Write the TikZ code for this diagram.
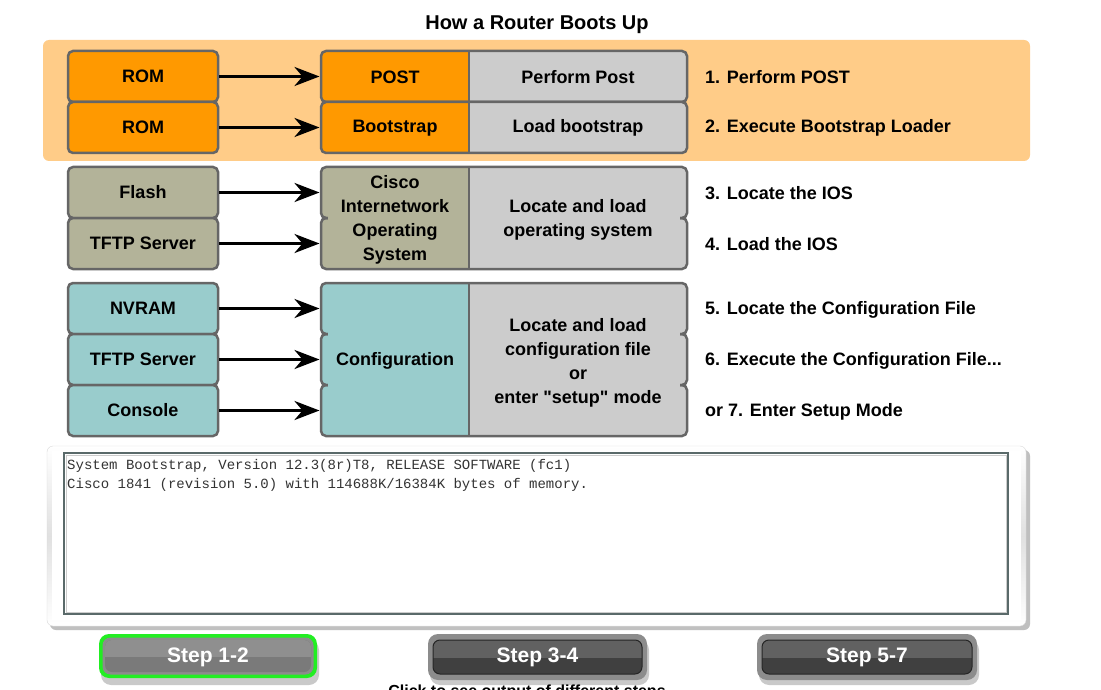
\documentclass[tikz,border=0pt]{standalone}
\usepackage{fontspec}
\setmainfont{Liberation Sans}[Ligatures=TeXOff]
\setmonofont{Liberation Mono}
\usetikzlibrary{arrows.meta}
\definecolor{band}{HTML}{FFCC88}
\definecolor{orng}{HTML}{FF9900}
\definecolor{greybox}{HTML}{CCCCCC}
\definecolor{khaki}{HTML}{B3B399}
\definecolor{tealbox}{HTML}{99CCCC}
\definecolor{bord}{HTML}{666666}
\definecolor{btngreen}{HTML}{22EE22}
\definecolor{consoleframe}{HTML}{5A6A6A}
\tikzset{
  txt/.style={font=\bfseries\fontsize{18}{24}\selectfont, align=center, inner sep=0pt},
  lbox/.style={txt, draw=bord, line width=2.5pt, rounded corners=5pt, minimum width=150pt, minimum height=51pt},
  outline/.style={draw=bord, line width=2.5pt, rounded corners=5pt},
  arr/.style={line width=3.2pt, -{Stealth[length=25pt, width=19pt, inset=8pt]}},
  steplabel/.style={font=\bfseries\fontsize{18}{22}\selectfont, anchor=west, inner sep=0pt},
  btntext/.style={font=\bfseries\fontsize{21}{24}\selectfont, text=white, inner sep=0pt},
  monotext/.style={font=\ttfamily\fontsize{14}{16}\selectfont, text=black!80, anchor=base west, inner sep=0pt}
}
\begin{document}
\begin{tikzpicture}[x=1pt,y=-1pt]
\clip (0,0) rectangle (1101,690);
\fill[white] (0,0) rectangle (1101,690);

% title
\node[font=\bfseries\fontsize{20}{24}\selectfont, inner sep=0pt] (title) at (537,25) {How a Router Boots Up};

% orange band
\fill[band, rounded corners=6pt] (43,40) rectangle (1030,161);

% ---------- group 1 ----------
\node[lbox, fill=orng] (rom1) at (143,76.5) {ROM};
\node[lbox, fill=orng] (rom2) at (143,127.5) {ROM};
\foreach \a/\b in {51/102,102/153}{
  \fill[greybox, rounded corners=5pt] (321,\a) rectangle (687,\b);
  \begin{scope}
    \clip (300,\a-5) rectangle (469,\b+5);
    \fill[orng, rounded corners=5pt] (321,\a) rectangle (687,\b);
  \end{scope}
  \draw[outline] (321,\a) rectangle (687,\b);
  \draw[bord, line width=2.5pt] (469,\a) -- (469,\b);
}
\node[txt] (post) at (395,77) {POST};
\node[txt] (perf) at (578,77) {Perform Post};
\node[txt] (boot) at (395,128) {Bootstrap};
\node[txt] (loadb) at (578,128) {Load bootstrap};
\coordinate (t1) at (319.5,76.5);
\coordinate (t2) at (319.5,127.5);
\draw[arr] (rom1) -- (t1);
\draw[arr] (rom2) -- (t2);
\node[steplabel] (s1) at (705,77) {1. Perform POST};
\node[steplabel] (s2) at (705,128) {2. Execute Bootstrap Loader};

% ---------- group 2 ----------
\node[lbox, fill=khaki] (flash) at (143,192.5) {Flash};
\node[lbox, fill=khaki] (tftp1) at (143,243.5) {TFTP Server};
\foreach \a/\b in {167/218,218/269}{
  \fill[greybox, rounded corners=5pt] (321,\a) rectangle (687,\b);
}
\begin{scope}
  \clip (300,160) rectangle (469,275);
  \foreach \a/\b in {167/218,218/269}{
    \fill[khaki, rounded corners=5pt] (321,\a) rectangle (687,\b);
  }
\end{scope}
\foreach \a/\b in {167/218,218/269}{
  \draw[outline] (321,\a) rectangle (687,\b);
}
\fill[khaki] (328,216) rectangle (469,220);
\fill[greybox] (469,216) rectangle (680,220);
\draw[bord, line width=2.5pt] (469,167) -- (469,269);
\node[txt] (ios) at (395,219.5) {Cisco\\Internetwork\\Operating\\System};
\node[txt] (locos) at (578,219.5) {Locate and load\\operating system};
\coordinate (t3) at (319.5,192.5);
\coordinate (t4) at (319.5,243.5);
\draw[arr] (flash) -- (t3);
\draw[arr] (tftp1) -- (t4);
\node[steplabel] (s3) at (705,193) {3. Locate the IOS};
\node[steplabel] (s4) at (705,244.5) {4. Load the IOS};

% ---------- group 3 ----------
\node[lbox, fill=tealbox] (nvram) at (143,308.5) {NVRAM};
\node[lbox, fill=tealbox] (tftp2) at (143,359.5) {TFTP Server};
\node[lbox, fill=tealbox] (cons) at (143,410.5) {Console};
\foreach \a/\b in {283/334,334/385,385/436}{
  \fill[greybox, rounded corners=5pt] (321,\a) rectangle (687,\b);
}
\begin{scope}
  \clip (300,275) rectangle (469,445);
  \foreach \a/\b in {283/334,334/385,385/436}{
    \fill[tealbox, rounded corners=5pt] (321,\a) rectangle (687,\b);
  }
\end{scope}
\foreach \a/\b in {283/334,334/385,385/436}{
  \draw[outline] (321,\a) rectangle (687,\b);
}
\foreach \m in {334,385}{
  \fill[tealbox] (328,\m-2) rectangle (469,\m+2);
  \fill[greybox] (469,\m-2) rectangle (680,\m+2);
}
\draw[bord, line width=2.5pt] (469,283) -- (469,436);
\node[txt] (conf) at (395,360.5) {Configuration};
\node[txt] (locconf) at (578,362.5) {Locate and load\\configuration file\\or\\enter "setup" mode};
\coordinate (t5) at (319.5,308.5);
\coordinate (t6) at (319.5,359.5);
\coordinate (t7) at (319.5,410.5);
\draw[arr] (nvram) -- (t5);
\draw[arr] (tftp2) -- (t6);
\draw[arr] (cons) -- (t7);
\node[steplabel] (s5) at (705,309.5) {5. Locate the Configuration File};
\node[steplabel] (s6) at (705,360.5) {6. Execute the Configuration File...};
\node[steplabel] (s7) at (705,411.5) {or 7. Enter Setup Mode};

% ---------- console panel ----------
\fill[black!25, rounded corners=6pt] (50,450) rectangle (1030,630);
\shade[top color=white, bottom color=white, middle color=black!12, rounded corners=6pt, draw=black!15] (47,446) rectangle (1026,626);
\fill[white] (52,451) rectangle (1021,620);
\draw[consoleframe, line width=1.3pt, fill=white] (64,453) rectangle (1008,614);
\draw[black!20, line width=0.8pt] (66,455) rectangle (1006,612);
\node[monotext] (line1) at (67,469) {System Bootstrap, Version 12.3(8r)T8, RELEASE SOFTWARE (fc1)};
\node[monotext] (line2) at (67,488) {Cisco 1841 (revision 5.0) with 114688K/16384K bytes of memory.};

% ---------- buttons ----------
\foreach \x/\w in {99/218,428/219,757/220}{
  \fill[black!35, opacity=0.6, rounded corners=10pt] (\x+2,640) rectangle (\x+\w+2,685);
}
% button 1 (active)
\fill[btngreen, rounded corners=10pt] (99,634) rectangle (317,678);
\fill[black!45, rounded corners=8pt] (102.5,637.5) rectangle (313.5,674.5);
\fill[black!52, rounded corners=7pt] (105,640) rectangle (311,672);
\begin{scope}
  \clip (100,635) rectangle (316,656);
  \fill[black!44, rounded corners=7pt] (105,640) rectangle (311,672);
\end{scope}
\node[btntext] (b1) at (208,657) {Step 1-2};
% buttons 2 and 3
\foreach \x/\w/\n/\t in {428/219/b2/Step 3-4,757/220/b3/Step 5-7}{
  \fill[black!45, rounded corners=10pt] (\x,634) rectangle (\x+\w,680);
  \fill[black!75, rounded corners=7pt] (\x+5,640) rectangle (\x+\w-5,674);
  \begin{scope}
    \clip (\x,634) rectangle (\x+\w,657);
    \fill[black!62, rounded corners=7pt] (\x+5,640) rectangle (\x+\w-5,674);
  \end{scope}
  \draw[black!85, line width=1pt, rounded corners=7pt] (\x+5,640) rectangle (\x+\w-5,674);
  \node[btntext] (\n) at (\x+\w/2,657) {\t};
}

% cut-off hint text
\node[font=\bfseries\fontsize{16}{18}\selectfont, anchor=base, inner sep=0pt] (hint) at (527,696) {Click to see output of different steps};
\end{tikzpicture}
\end{document}
